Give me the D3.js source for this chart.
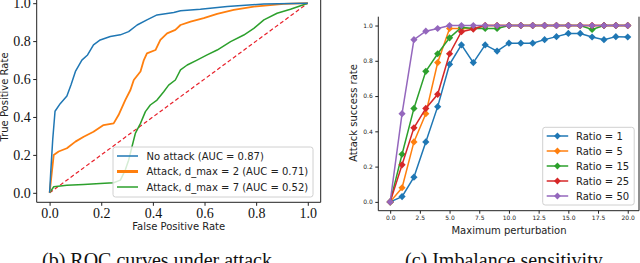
<!DOCTYPE html>
<html>
<head>
<meta charset="utf-8">
<script src="https://cdn.jsdelivr.net/npm/d3@7"></script>
<style>
  body { margin: 0; background: #fff; }
  svg { display: block; }
</style>
</head>
<body>
<div id="chart"></div>
<script>
// ROC curves (fpr, tpr)
const noAttackRoc = [[0,0],[0.004,0.10],[0.012,0.28],[0.021,0.43],[0.041,0.47],[0.067,0.51],[0.083,0.57],[0.10,0.64],[0.125,0.70],[0.147,0.727],[0.17,0.78],[0.196,0.806],[0.235,0.824],[0.274,0.833],[0.306,0.85],[0.339,0.885],[0.377,0.912],[0.416,0.938],[0.481,0.951],[0.507,0.96],[0.584,0.968],[0.688,0.982],[0.83,0.996],[1,1]];
const attack2Roc = [[0,0],[0.016,0.20],[0.035,0.218],[0.067,0.235],[0.10,0.27],[0.132,0.296],[0.17,0.322],[0.209,0.357],[0.248,0.366],[0.267,0.41],[0.293,0.489],[0.313,0.542],[0.326,0.595],[0.352,0.64],[0.365,0.70],[0.377,0.735],[0.41,0.753],[0.429,0.806],[0.455,0.841],[0.487,0.859],[0.507,0.885],[0.546,0.903],[0.597,0.921],[0.649,0.944],[0.713,0.965],[0.791,0.982],[0.907,0.996],[1,1]];
const attack7Roc = [[0,0],[0.016,0.032],[0.067,0.04],[0.132,0.044],[0.196,0.049],[0.248,0.053],[0.274,0.067],[0.293,0.12],[0.306,0.172],[0.319,0.243],[0.332,0.313],[0.352,0.366],[0.371,0.428],[0.39,0.463],[0.416,0.489],[0.442,0.533],[0.461,0.568],[0.487,0.595],[0.507,0.648],[0.533,0.674],[0.571,0.70],[0.61,0.727],[0.649,0.753],[0.701,0.797],[0.752,0.832],[0.791,0.867],[0.83,0.912],[0.881,0.947],[0.933,0.968],[1,1]];
const rocLabels = ["No attack (AUC = 0.87)", "Attack, d_max = 2 (AUC = 0.71)", "Attack, d_max = 7 (AUC = 0.52)"];
const rocTicks = [0, 0.2, 0.4, 0.6, 0.8, 1.0];

// Imbalance sensitivity panel
const perturbation = [0,1,2,3,4,5,6,7,8,9,10,11,12,13,14,15,16,17,18,19,20];
const ratio1  = [0,0.03,0.14,0.34,0.54,0.78,0.89,0.79,0.89,0.855,0.90,0.90,0.90,0.92,0.937,0.955,0.955,0.935,0.92,0.937,0.935];
const ratio5  = [0,0.08,0.34,0.50,0.79,0.983,0.983,0.983,1,1,1,1,1,1,1,1,1,1,1,1,1];
const ratio15 = [0,0.27,0.53,0.74,0.84,0.93,0.99,0.983,0.983,0.983,1,1,1,1,1,1,1,0.978,1,1,1];
const ratio25 = [0,0.21,0.42,0.53,0.61,0.84,0.965,0.98,1,1,1,1,1,1,1,1,1,1,1,1,1];
const ratio50 = [0,0.50,0.92,0.968,0.983,1,1,1,1,1,1,1,1,1,1,1,1,1,1,1,1];
const ratioLabels = ["Ratio = 1", "Ratio = 5", "Ratio = 15", "Ratio = 25", "Ratio = 50"];
const pertTicks = [0, 2.5, 5, 7.5, 10, 12.5, 15, 17.5, 20];
const rateTicks = [0, 0.2, 0.4, 0.6, 0.8, 1.0];

const captions = ["(b) ROC curves under attack", "(c) Imbalance sensitivity"];

const tab = ["#1f77b4", "#ff7f0e", "#2ca02c", "#d62728", "#9467bd"];
const sans = "DejaVu Sans, sans-serif";
const serif = "Liberation Serif, Times New Roman, serif";

const svg = d3.select("#chart").append("svg")
  .attr("width", 640)
  .attr("height", 263);

// ---------- left panel: ROC ----------
const xL = d3.scaleLinear().domain([-0.05, 1.05]).range([36.7, 320.7]);
const yL = d3.scaleLinear().domain([-0.05, 1.05]).range([202.3, -6.3]);
const gL = svg.append("g");

const lineL = d3.line().x(d => xL(d[0])).y(d => yL(d[1]));

gL.append("line")
  .attr("x1", xL(0)).attr("y1", yL(0))
  .attr("x2", xL(1)).attr("y2", yL(1))
  .attr("stroke", "#e8202a")
  .attr("stroke-width", 1.2)
  .attr("stroke-dasharray", "4,2.5");

const rocSeries = [attack7Roc, attack2Roc, noAttackRoc];
const rocColors = [tab[2], tab[1], tab[0]];
const rocWidths = [1.5, 1.8, 1.5];
rocSeries.forEach((s, i) => {
  gL.append("path")
    .datum(s)
    .attr("d", lineL)
    .attr("fill", "none")
    .attr("stroke", rocColors[i])
    .attr("stroke-width", rocWidths[i])
    .attr("stroke-linejoin", "round");
});

// spines
gL.append("path")
  .attr("d", `M${xL.range()[0]},${yL.range()[1]}V${yL.range()[0]}H${xL.range()[1]}V${yL.range()[1]}`)
  .attr("fill", "none")
  .attr("stroke", "#222")
  .attr("stroke-width", 1);

const axLx = gL.append("g")
  .attr("transform", `translate(0,${yL.range()[0]})`)
  .call(d3.axisBottom(xL).tickValues(rocTicks).tickFormat(d3.format(".1f")).tickSizeOuter(0).tickSize(3.5).tickPadding(2));
const axLy = gL.append("g")
  .attr("transform", `translate(${xL.range()[0]},0)`)
  .call(d3.axisLeft(yL).tickValues(rocTicks).tickFormat(d3.format(".1f")).tickSizeOuter(0).tickSize(3.5).tickPadding(2.5));
[axLx, axLy].forEach(a => {
  a.select(".domain").remove();
  a.selectAll("line").attr("stroke", "#222");
  a.selectAll("text").attr("font-family", serif).attr("font-size", 14).attr("fill", "#111");
});

gL.append("text")
  .attr("x", (xL.range()[0] + xL.range()[1]) / 2)
  .attr("y", 230)
  .attr("text-anchor", "middle")
  .attr("font-family", sans).attr("font-size", 10).attr("fill", "#222")
  .text("False Positive Rate");
gL.append("text")
  .attr("transform", `translate(8,97) rotate(-90)`)
  .attr("text-anchor", "middle")
  .attr("font-family", sans).attr("font-size", 10).attr("fill", "#222")
  .text("True Positive Rate");

// legend
const legL = gL.append("g").attr("transform", "translate(113,147)");
legL.append("rect")
  .attr("width", 200).attr("height", 50).attr("rx", 2.5)
  .attr("fill", "#fff").attr("fill-opacity", 0.8)
  .attr("stroke", "#d0d0d0").attr("stroke-width", 1);
const legLColors = [tab[0], tab[1], tab[2]];
const legLWidths = [1.5, 3, 1.5];
rocLabels.forEach((lab, i) => {
  const yy = 9 + i * 15.5;
  legL.append("line")
    .attr("x1", 4).attr("x2", 25).attr("y1", yy).attr("y2", yy)
    .attr("stroke", legLColors[i]).attr("stroke-width", legLWidths[i]);
  legL.append("text")
    .attr("x", 33.5).attr("y", yy + 3.6)
    .attr("font-family", sans).attr("font-size", 10).attr("fill", "#222")
    .text(lab);
});

// ---------- right panel: imbalance ----------
const xR = d3.scaleLinear().domain([-1, 21]).range([378.3, 639.6]);
const yR = d3.scaleLinear().domain([-0.05, 1.05]).range([210.7, 16.7]);
const gR = svg.append("g");

const ratioSeries = [ratio1, ratio5, ratio15, ratio25, ratio50];
const lineR = d3.line().x((d, i) => xR(perturbation[i])).y(d => yR(d));
const diamond = r => `M0,${-r}L${r},0L0,${r}L${-r},0Z`;

ratioSeries.forEach((s, k) => {
  const g = gR.append("g");
  g.append("path")
    .datum(s)
    .attr("d", lineR)
    .attr("fill", "none")
    .attr("stroke", tab[k])
    .attr("stroke-width", 1.5);
  g.selectAll("path.mk")
    .data(s)
    .enter()
    .append("path")
    .attr("class", "mk")
    .attr("transform", (d, i) => `translate(${xR(perturbation[i])},${yR(d)})`)
    .attr("d", diamond(3.6))
    .attr("fill", tab[k]);
});

gR.append("path")
  .attr("d", `M${xR.range()[0]},${yR.range()[1]}V${yR.range()[0]}H${xR.range()[1] - 0.6}V${yR.range()[1]}`)
  .attr("fill", "none")
  .attr("stroke", "#222")
  .attr("stroke-width", 1);

const axRx = gR.append("g")
  .attr("transform", `translate(0,${yR.range()[0]})`)
  .call(d3.axisBottom(xR).tickValues(pertTicks).tickFormat(d3.format(".1f")).tickSizeOuter(0).tickSize(3).tickPadding(2.5));
const axRy = gR.append("g")
  .attr("transform", `translate(${xR.range()[0]},0)`)
  .call(d3.axisLeft(yR).tickValues(rateTicks).tickFormat(d3.format(".1f")).tickSizeOuter(0).tickSize(3).tickPadding(2.5));
[axRx, axRy].forEach(a => {
  a.select(".domain").remove();
  a.selectAll("line").attr("stroke", "#222");
  a.selectAll("text").attr("font-family", sans).attr("font-size", 6).attr("fill", "#222");
});

gR.append("text")
  .attr("x", 509)
  .attr("y", 233.5)
  .attr("text-anchor", "middle")
  .attr("font-family", sans).attr("font-size", 10).attr("fill", "#222")
  .text("Maximum perturbation");
gR.append("text")
  .attr("transform", `translate(356.5,113) rotate(-90)`)
  .attr("text-anchor", "middle")
  .attr("font-family", sans).attr("font-size", 10).attr("fill", "#222")
  .text("Attack success rate");

const legR = gR.append("g").attr("transform", "translate(542.7,127.3)");
legR.append("rect")
  .attr("width", 91.5).attr("height", 77.7).attr("rx", 2.5)
  .attr("fill", "#fff").attr("fill-opacity", 0.8)
  .attr("stroke", "#d0d0d0").attr("stroke-width", 1);
ratioLabels.forEach((lab, i) => {
  const yy = 8.7 + i * 15;
  legR.append("line")
    .attr("x1", 4).attr("x2", 25.5).attr("y1", yy).attr("y2", yy)
    .attr("stroke", tab[i]).attr("stroke-width", 1.5);
  legR.append("path")
    .attr("transform", `translate(14.7,${yy})`)
    .attr("d", diamond(3.4))
    .attr("fill", tab[i]);
  legR.append("text")
    .attr("x", 33.3).attr("y", yy + 3.6)
    .attr("font-family", sans).attr("font-size", 10).attr("fill", "#222")
    .text(lab);
});

// ---------- captions ----------
const capX = [42, 405];
captions.forEach((c, i) => {
  svg.append("text")
    .attr("x", capX[i]).attr("y", 266.5)
    .attr("font-family", serif).attr("font-size", 20).attr("fill", "#111")
    .text(c);
});
</script>
</body>
</html>
